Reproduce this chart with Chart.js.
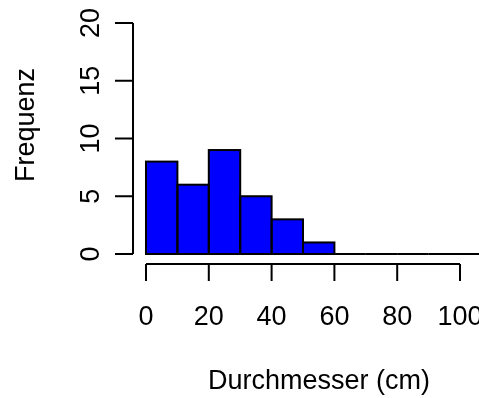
<!DOCTYPE html>
<html>
<head>
<meta charset="utf-8">
<script src="https://cdn.jsdelivr.net/npm/chart.js@4/dist/chart.umd.min.js"></script>
<style>
body{margin:0;background:#fff;}
canvas{display:block;}
</style>
</head>
<body>
<canvas id="histcanvas" width="479" height="398"></canvas>
<script>
// bin midpoints (bins are 10 cm wide) and counts
var bins=[5,15,25,35,45,55,65,75,85,95,105];
var counts=[8,6,9,5,3,1,0,0,0,0,0];
var xTicks=[0,20,40,60,80,100];
var yTicks=[0,5,10,15,20];
var xTitle="Durchmesser (cm)";
var yTitle="Frequenz";

var FONT="27px 'Liberation Sans', Arial, sans-serif";

var rAxes={
	id:"rAxes",
	afterDatasetsDraw:function(chart){
		var ctx=chart.ctx, a=chart.chartArea;
		var meta=chart.getDatasetMeta(0);
		ctx.save();
		ctx.beginPath();
		ctx.rect(a.left,a.top,a.right-a.left,a.bottom-a.top);
		ctx.clip();
		ctx.strokeStyle="#000";
		ctx.lineWidth=2;
		meta.data.forEach(function(el){
			ctx.strokeRect(el.x-el.width/2,el.y,el.width,el.base-el.y);
		});
		ctx.restore();
	},
	afterDraw:function(chart){
		var ctx=chart.ctx, a=chart.chartArea;
		var xs=chart.scales.x, ys=chart.scales.y;
		ctx.save();
		ctx.strokeStyle="#000";
		ctx.fillStyle="#000";
		ctx.lineWidth=2;
		ctx.font=FONT;

		// y axis
		var yTop=ys.getPixelForValue(yTicks[yTicks.length-1]);
		var yBot=ys.getPixelForValue(yTicks[0]);
		var ax=a.left;
		ctx.beginPath();
		ctx.moveTo(ax,yTop);ctx.lineTo(ax,yBot);
		yTicks.forEach(function(t){
			var p=ys.getPixelForValue(t);
			ctx.moveTo(ax,p);ctx.lineTo(ax-18,p);
		});
		ctx.stroke();
		ctx.textAlign="center";
		ctx.textBaseline="middle";
		yTicks.forEach(function(t){
			var p=ys.getPixelForValue(t);
			ctx.save();
			ctx.translate(92,p);
			ctx.rotate(-Math.PI/2);
			ctx.fillText(String(t),0,0);
			ctx.restore();
		});

		// x axis
		var ay=a.bottom;
		var xl=xs.getPixelForValue(xTicks[0]);
		var xr=xs.getPixelForValue(xTicks[xTicks.length-1]);
		ctx.beginPath();
		ctx.moveTo(xl,ay);ctx.lineTo(xr,ay);
		xTicks.forEach(function(t){
			var p=xs.getPixelForValue(t);
			ctx.moveTo(p,ay);ctx.lineTo(p,ay+17);
		});
		ctx.stroke();
		xTicks.forEach(function(t){
			ctx.fillText(String(t),xs.getPixelForValue(t),318);
		});

		// titles
		ctx.fillText(xTitle,319,382);
		ctx.save();
		ctx.translate(27,125);
		ctx.rotate(-Math.PI/2);
		ctx.fillText(yTitle,0,0);
		ctx.restore();
		ctx.restore();
	}
};

var chart=new Chart(document.getElementById("histcanvas"),{
	type:"bar",
	data:{
		datasets:[{
			data:bins.map(function(b,i){return {x:b,y:counts[i]};}),
			backgroundColor:"#0000ff",
			borderWidth:0,
			categoryPercentage:1,
			barPercentage:1
		}]
	},
	options:{
		responsive:false,
		animation:false,
		devicePixelRatio:1,
		layout:{padding:{left:133,right:0,top:14,bottom:134}},
		plugins:{legend:{display:false},tooltip:{enabled:false}},
		scales:{
			x:{type:"linear",min:-4.14,max:106.05,offset:false,display:false},
			y:{min:-0.866,max:20.78,display:false}
		}
	},
	plugins:[rAxes]
});
</script>
</body>
</html>
